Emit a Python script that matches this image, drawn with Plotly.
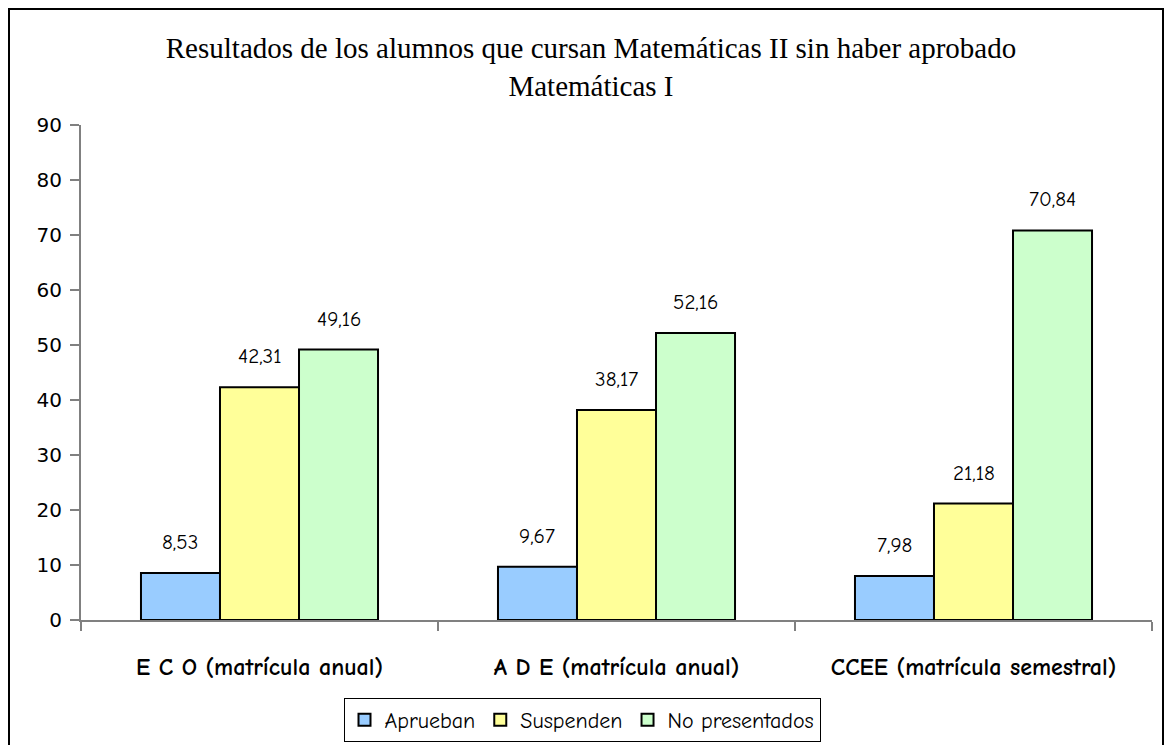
import plotly.graph_objects as go

categories = ["E C O (matrícula anual)", "A D E (matrícula anual)", "CCEE (matrícula semestral)"]
aprueban = [8.53, 9.67, 7.98]
suspenden = [42.31, 38.17, 21.18]
no_presentados = [49.16, 52.16, 70.84]
series_names = ["Aprueban", "Suspenden", "No presentados"]
colors = ["#99CCFF", "#FFFF99", "#CCFFCC"]
title_text = "Resultados de los alumnos que cursan Matemáticas II sin haber aprobado<br>Matemáticas I"

comic = "Comic Sans MS, Comic Neue, DejaVu Sans, sans-serif"

# page has an 8px body margin; figure is drawn at (8, 8)
OFF = 8
W, H = 1156, 737
ml, mr, mt, mb = 73, 12, 117, 125
pw, ph = W - ml - mr, H - mt - mb
bargap = 0.336
bar_px = pw / len(categories) * (1 - bargap) / len(series_names)


def px_x(p):
    return (p - OFF - ml) / pw


def px_y(p):
    return (H - mb - (p - OFF)) / ph


fig = go.Figure()
annotations = []
all_series = [aprueban, suspenden, no_presentados]
for i, (name, vals, col) in enumerate(zip(series_names, all_series, colors)):
    fig.add_trace(go.Bar(
        x=categories, y=vals, name=name,
        marker=dict(color=col, line=dict(color="black", width=2)),
    ))
    for c, v in zip(categories, vals):
        annotations.append(dict(
            x=c, y=v, xref="x", yref="y", text=f"{v:.2f}".replace(".", ","),
            showarrow=False, yanchor="bottom", yshift=17,
            xshift=(i - 1) * bar_px,
            font=dict(family=comic, size=21, color="black"),
        ))

fig.update_layout(
    width=W, height=H,
    margin=dict(l=ml, r=mr, t=mt, b=mb, autoexpand=False),
    paper_bgcolor="white", plot_bgcolor="white",
    separators=",.",
    barmode="group", bargap=bargap, bargroupgap=0,
    title=dict(text=title_text, x=(591 - OFF) / W, xanchor="center", xref="container",
               y=1 - 50 / H, yanchor="top", yref="container",
               font=dict(family="Liberation Serif, Times New Roman, serif", size=29, color="black")),
    showlegend=True,
    legend=dict(orientation="h", x=px_x(582), xanchor="center", y=px_y(698), yanchor="top",
                bordercolor="black", borderwidth=1, bgcolor="white",
                font=dict(family=comic, size=22, color="black"),
                traceorder="normal", itemwidth=30),
    xaxis=dict(type="category", showline=True, linecolor="#808080", linewidth=2,
               ticks="outside", tickson="boundaries", ticklen=9, tickcolor="#808080", tickwidth=2,
               ticklabelstandoff=24,
               tickfont=dict(family=comic, size=24, color="black", weight="bold"),
               showgrid=False, zeroline=False),
    yaxis=dict(range=[0, 90], dtick=10, showline=True, linecolor="#808080", linewidth=2,
               ticks="outside", ticklen=9, tickcolor="#808080", tickwidth=2,
               ticklabelstandoff=4,
               tickfont=dict(family="DejaVu Sans, Verdana, sans-serif", size=20, color="black"),
               showgrid=False, zeroline=False),
    annotations=annotations,
    shapes=[dict(type="rect", xref="paper", yref="paper",
                 x0=px_x(9), x1=px_x(1163), y0=px_y(800), y1=px_y(9),
                 line=dict(color="black", width=2), fillcolor="rgba(0,0,0,0)", layer="below")],
)

fig.write_html("out.html")
